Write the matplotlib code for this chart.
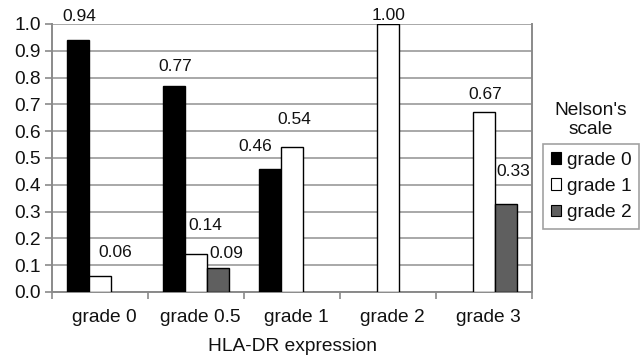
import numpy as np
import matplotlib
matplotlib.use("Agg")
import matplotlib.pyplot as plt
import matplotlib.transforms as mtransforms
from matplotlib.patches import Patch

plt.rcParams['font.family'] = ['Liberation Sans', 'DejaVu Sans']

categories = ['grade 0', 'grade 0.5', 'grade 1', 'grade 2', 'grade 3']
series_names = ['grade 0', 'grade 1', 'grade 2']
grade0 = [0.94, 0.77, 0.46, 0.00, 0.00]
grade1 = [0.06, 0.14, 0.54, 1.00, 0.67]
grade2 = [0.00, 0.09, 0.00, 0.00, 0.33]
y_ticks = [0.0, 0.1, 0.2, 0.3, 0.4, 0.5, 0.6, 0.7, 0.8, 0.9, 1.0]

series = [grade0, grade1, grade2]
face_colors = ['#000000', '#ffffff', '#5f5f5f']

# label placement (pixels from top-centre of each bar to label centre)
label_offsets = [
    [(1, 24), (1, 19), (-15, 22), None, None],
    [(15, 23), (9, 29), (2, 28), (1, 9), (1, 18)],
    [None, (8, 14), None, None, (7, 32)],
]

W, H = 641, 361
fig = plt.figure(figsize=(W / 100, H / 100), dpi=100)
ax = fig.add_axes([52 / W, 1 - 292 / H, 480 / W, 268 / H])

x = np.arange(len(categories))
bw = 0.228
for j, vals in enumerate(series):
    vals = np.asarray(vals, dtype=float)
    xs = x + (j - 1) * bw
    keep = vals > 0
    ax.bar(xs[keep], vals[keep], width=bw, color=face_colors[j],
           edgecolor='#000000', linewidth=1.0, zorder=3)
    for i in np.where(keep)[0]:
        dx, dy = label_offsets[j][i]
        ax.annotate(f"{vals[i]:.2f}", xy=(xs[i], vals[i]),
                    xytext=(dx * 0.72, dy * 0.72), textcoords='offset points',
                    ha='center', va='center', fontsize=12.5, color='#111111',
                    zorder=4)

ax.set_xlim(-0.5, len(categories) - 0.5)
ax.set_ylim(0, 1.0)
ax.set_yticks(y_ticks)
ax.set_yticklabels([f"{t:.1f}" for t in y_ticks])
ax.yaxis.grid(True, color='#a8a8a8', linewidth=1.4, zorder=0)
ax.set_axisbelow(True)

ax.set_xticks(x)
ax.set_xticklabels(categories)
ax.set_xticks(np.arange(len(categories) + 1) - 0.5, minor=True)
ax.tick_params(axis='x', which='major', length=0, pad=12, labelsize=13.8,
               labelcolor='#111111')
ax.tick_params(axis='x', which='minor', length=5, width=1.2, color='#8a8a8a',
               direction='out')
ax.tick_params(axis='y', length=5, width=1.2, color='#8a8a8a', pad=3,
               labelsize=13.8, labelcolor='#111111')
shift = mtransforms.ScaledTranslation(4 / 100, 0, fig.dpi_scale_trans)
for lab in ax.get_xticklabels():
    lab.set_transform(lab.get_transform() + shift)

for side in ['left', 'bottom', 'right', 'top']:
    ax.spines[side].set_color('#8a8a8a')
    ax.spines[side].set_linewidth(1.4)
ax.spines['top'].set_visible(False)

ax.set_xlabel('HLA-DR expression', fontsize=13.8, color='#111111', labelpad=9)

handles = [Patch(facecolor=c, edgecolor='#000000', linewidth=0.8) for c in face_colors]
leg = fig.legend(handles, series_names, loc='upper left',
                 bbox_to_anchor=(543 / W, 1 - 144 / H),
                 fontsize=13.8, frameon=True, fancybox=False, shadow=False,
                 borderpad=0.4, borderaxespad=0, handlelength=0.55,
                 handleheight=0.55, handletextpad=0.3, labelspacing=0.48)
leg.get_frame().set_edgecolor('#8a8a8a')
leg.get_frame().set_linewidth(1.2)
for t in leg.get_texts():
    t.set_color('#111111')

fig.text(591 / W, 1 - 120 / H, "Nelson's\nscale", ha='center', va='center',
         fontsize=13.8, color='#111111', linespacing=1.15)

fig.savefig('out.png', dpi=100)
